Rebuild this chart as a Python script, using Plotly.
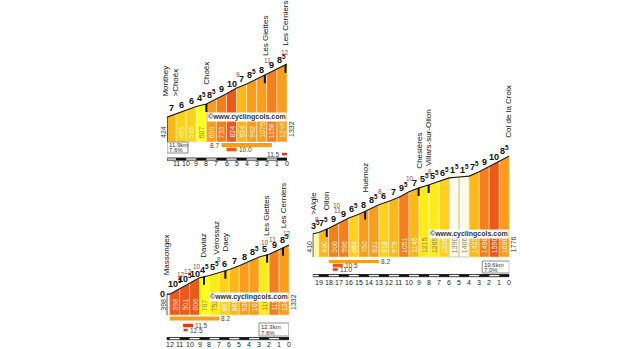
import numpy as np
import plotly.graph_objects as go

W, H = 640, 349

# ---------------- Monthey -> Les Cerniers ----------------
mon_km = [11.9, 11, 10, 9, 8, 7, 6, 5, 4, 3, 2, 1, 0]
mon_elev = [424, 485, 546, 607, 650, 733, 824, 924, 992, 1076, 1158, 1246, 1332]
mon_grad = [7, 6, 6, 4.5, 8.5, 9, 10, 7, 8.5, 8, 9, 8.5]
mon_peak_km = [4.9, 1.9, 0.2]
mon_peak_val = [9, 11, 12]
mon_place = ["Monthey<br>&gt;Choëx", "Choëx", "Les Giettes", "Les Cerniers"]
mon_place_km = [11.6, 8.0, 2.2, 0.15]
mon_place_mark = [False, True, True, True]
mon_length = "11.9km"
mon_mean = "7.6%"
mon_steep_from = [6.5, 6.0, 0.5]
mon_steep_to = [1.5, 5.0, 0.0]
mon_steep_val = [8.7, 10.0, 11.5]

# ---------------- Massongex -> Les Cerniers ----------------
mas_km = [12.3, 12, 11, 10, 9, 8, 7, 6, 5, 4, 3, 2, 1, 0]
mas_elev = [398, 398, 501, 606, 707, 752, 807, 868, 938, 1019, 1106, 1158, 1246, 1332]
mas_grad = [0, 10.5, 10.5, 10, 4.5, 5.5, 6, 7, 8, 8.5, 5, 9, 8.5]
mas_peak_km = [10.87, 10.15, 9.3, 7.05, 2.45, 1.65, 0.25]
mas_peak_val = [12, 12, 10, 8, 10, 11, 12]
mas_place = ["Massongex", "Daviaz", "Vérossaz", "Daey", "Les Giettes", "Les Cerniers"]
mas_place_km = [12.3, 8.55, 7.3, 6.4, 2.2, 0.6]
mas_place_mark = [False, True, False, True, True, True]
mas_length = "12.3km"
mas_mean = "7.6%"
mas_steep_from = [12.0, 10.65, 10.6]
mas_steep_to = [7.0, 9.65, 10.2]
mas_steep_val = [8.2, 11.5, 12.5]

# ---------------- Aigle -> Col de la Croix ----------------
aig_km = [19.6, 19, 18, 17, 16, 15, 14, 13, 12, 11, 10, 9, 8, 7, 6, 5, 4, 3, 2, 1, 0]
aig_elev = [410, 430, 506, 596, 684, 750, 831, 918, 979, 1051, 1145, 1215, 1269,
            1326, 1390, 1406, 1422, 1498, 1590, 1690, 1776]
aig_grad = [3.5, 7.5, 9, 9, 6.5, 8, 8.5, 6, 7, 9.5, 7, 5.5, 5.5, 6.5, 1.5, 1.5, 7.5, 9, 10, 8.5]
aig_peak_km = [19.17, 17.14, 17.14, 12.94, 9.87, 7.87]
aig_peak_val = [8, 11, 10, 8, 10, 8]
aig_place = ["&gt;Aigle", "Ollon", "Huémoz", "Chesières", "Villars-sur-Ollon", "Col de la Croix"]
aig_place_km = [19.6, 18.2, 14.37, 9.04, 8.04, 0.1]
aig_place_mark = [False, True, True, True, True, False]
aig_length = "19.6km"
aig_mean = "7.0%"
aig_steep_from = [18.0, 17.6, 17.6]
aig_steep_to = [13.0, 16.6, 17.1]
aig_steep_val = [8.2, 10.5, 11.0]

NARROW = "Liberation Sans Narrow, Arial Narrow, Liberation Sans, Arial, sans-serif"
SANS = "Liberation Sans, Arial, sans-serif"

panels = [
    dict(km=mon_km, elev=mon_elev, grad=mon_grad, peak_km=mon_peak_km, peak_val=mon_peak_val,
         place=mon_place, place_km=mon_place_km, place_mark=mon_place_mark,
         length=mon_length, mean=mon_mean,
         steep_from=mon_steep_from, steep_to=mon_steep_to, steep_val=mon_steep_val,
         x0=167, x1=287, base=142, ppm=0.0585, top=5, bottom=170,
         rows=[3, 7.5, 12], row_h=[4, 3.5, 2.5], ruler=16, ticks=21.5,
         box="left", box_dy=0, box_w=21, box_h=11, mark=20),
    dict(km=mas_km, elev=mas_elev, grad=mas_grad, peak_km=mas_peak_km, peak_val=mas_peak_val,
         place=mas_place, place_km=mas_place_km, place_mark=mas_place_mark,
         length=mas_length, mean=mas_mean,
         steep_from=mas_steep_from, steep_to=mas_steep_to, steep_val=mas_steep_val,
         x0=166.7, x1=289, base=315, ppm=0.0525, top=180, bottom=349,
         rows=[3.5, 10.5, 15], row_h=[4, 3.5, 2.5], ruler=22.5, ticks=29,
         box="right", box_dy=8, box_w=30, box_h=13, mark=13),
    dict(km=aig_km, elev=aig_elev, grad=aig_grad, peak_km=aig_peak_km, peak_val=aig_peak_val,
         place=aig_place, place_km=aig_place_km, place_mark=aig_place_mark,
         length=aig_length, mean=aig_mean,
         steep_from=aig_steep_from, steep_to=aig_steep_to, steep_val=aig_steep_val,
         x0=312.7, x1=509.3, base=257, ppm=0.0569, top=80, bottom=300,
         rows=[4.5, 8.5, 12.5], row_h=[3, 3.5, 2.5], ruler=17.5, ticks=25,
         box="right", box_dy=4, box_w=27, box_h=12, mark=18),
]


def grad_color(g):
    if g < 1:
        return "#ffffff"
    if g < 3:
        return "#fffbe6"
    if g < 4:
        return "#fff7a0"
    if g < 5:
        return "#ffff1e"
    if g < 6:
        return "#ffea1a"
    if g < 7:
        return "#ffd11c"
    if g < 8:
        return "#fbb81a"
    if g < 9:
        return "#f89e1c"
    if g < 10:
        return "#f37f1d"
    if g < 11:
        return "#ec5a1b"
    return "#e0351a"


def grad_label(g):
    whole = int(g)
    return f"{whole}<sup>5</sup>" if g - whole > 0.25 else f"{whole}"


fig = go.Figure()
shapes, annotations, axes = [], [], {}

for n, p in enumerate(panels, start=1):
    sfx = "" if n == 1 else str(n)
    xr, yr = "x" + sfx, "y" + sfx
    km = np.asarray(p["km"], float)
    el = np.asarray(p["elev"], float)
    L = km[0]
    ppk = (p["x1"] - p["x0"]) / L
    ppm = p["ppm"]

    axes["xaxis" + sfx] = dict(domain=[p["x0"] / W, p["x1"] / W], range=[L, 0],
                               visible=False, fixedrange=True, anchor=yr)
    axes["yaxis" + sfx] = dict(domain=[1 - p["bottom"] / H, 1 - p["top"] / H],
                               range=[-(p["bottom"] - p["base"]) / ppm, (p["base"] - p["top"]) / ppm],
                               visible=False, fixedrange=True, anchor=xr)

    def at(k, km=km, el=el):
        return float(np.interp(k, km[::-1], el[::-1]))

    def below(px, ppm=ppm):
        return -px / ppm

    def ann(**kw):
        d = dict(xref=xr, yref=yr, showarrow=False)
        d.update(kw)
        annotations.append(d)

    def shp(**kw):
        d = dict(xref=xr, yref=yr)
        d.update(kw)
        shapes.append(d)

    # one coloured block per kilometre
    for i, g in enumerate(p["grad"]):
        k0, k1, e0, e1 = km[i], km[i + 1], el[i], el[i + 1]
        edge = "#a8a8a8" if g < 3 else "rgba(255,255,255,0.7)"
        fig.add_trace(go.Scatter(x=[k0, k0, k1, k1, k0], y=[0, e0, e1, 0, 0], mode="lines",
                                 fill="toself", fillcolor=grad_color(g),
                                 line=dict(color=edge, width=0.6),
                                 xaxis=xr, yaxis=yr, hoverinfo="skip", showlegend=False))
    fig.add_trace(go.Scatter(x=list(km), y=list(el), mode="lines",
                             line=dict(color="#1a1a1a", width=1.1),
                             xaxis=xr, yaxis=yr, hoverinfo="skip", showlegend=False))
    fig.add_trace(go.Scatter(x=[L, L], y=[0, el[0]], mode="lines",
                             line=dict(color="#1a1a1a", width=1.3),
                             xaxis=xr, yaxis=yr, hoverinfo="skip", showlegend=False))

    # altitude at the start of each full kilometre
    for i in range(1, len(p["grad"])):
        g = p["grad"][i]
        ann(x=(km[i] + km[i + 1]) / 2, y=0, yanchor="bottom", yshift=2, textangle=-90,
            text=str(int(el[i])),
            font=dict(size=7, family=NARROW,
                      color="rgba(255,255,255,0.92)" if g >= 6 else "#8a8260"))

    # start / summit altitude
    ann(x=L, y=0, xshift=-4, yanchor="bottom", yshift=2, textangle=-90,
        text=str(int(el[0])), font=dict(size=7, family=NARROW, color="#333"))
    ann(x=0, y=0, xshift=4, yanchor="bottom", yshift=3, textangle=-90,
        text=str(int(el[-1])), font=dict(size=7, family=NARROW, color="#333"))

    # average gradient per kilometre
    for i, g in enumerate(p["grad"]):
        k0, k1 = km[i], km[i + 1]
        label = dict(text=f"<b>{grad_label(g)}</b>", font=dict(size=9, family=NARROW, color="#111"))
        if k0 - k1 < 0.5:
            # short opening stretch: label sits just left of the climb
            ann(x=k0, y=el[i], xanchor="right", yanchor="middle", **label)
        else:
            ann(x=(k0 + k1) / 2, y=(el[i] + el[i + 1]) / 2, yanchor="bottom", **label)

    # maximum gradients
    done = []
    for k, v in sorted(zip(p["peak_km"], p["peak_val"]), reverse=True):
        lvl = sum(abs(k - d) < 0.3 for d in done)
        done.append(k)
        ann(x=k, y=at(k), yshift=13 + 5 * lvl, text=str(v),
            font=dict(size=6.5, family=SANS, color="#8c4b43"))

    # place names with their markers
    for name, k, mark in zip(p["place"], p["place_km"], p["place_mark"]):
        ann(x=k, y=at(k), yanchor="bottom", yshift=17, textangle=-90, text=name, align="left",
            font=dict(size=8, family=NARROW, color="#111"))
        if mark:
            shp(type="line", x0=k, x1=k, y0=at(k), y1=at(k) + below(8),
                line=dict(color="#111", width=2))

    # site credit
    ann(x=0, y=0, xanchor="right", yanchor="bottom", yshift=p["mark"],
        text="<b>©www.cyclingcols.com</b>", bgcolor="white", borderpad=0,
        font=dict(size=7, family=SANS, color="#333"))

    # length / mean gradient box
    bw = p["box_w"] / ppk
    bx0, bx1 = (L, L - bw) if p["box"] == "left" else (bw, 0)
    shp(type="rect", x0=bx0, x1=bx1, y0=below(p["box_dy"]), y1=below(p["box_dy"] + p["box_h"]),
        line=dict(color="#8a8a8a", width=1), fillcolor="white")
    for frac, txt in ((0.3, p["length"]), (0.74, p["mean"])):
        ann(x=bx0, y=below(p["box_dy"] + p["box_h"] * frac), xanchor="left", xshift=1,
            text=txt, borderpad=0, font=dict(size=6, family=SANS, color="#333"))

    # steepest sections
    for j, (a, b, v) in enumerate(zip(p["steep_from"], p["steep_to"], p["steep_val"])):
        c, h = p["rows"][j], p["row_h"][j]
        shp(type="rect", x0=a, x1=b, y0=below(c - h / 2), y1=below(c + h / 2),
            fillcolor=grad_color(v), line=dict(width=0))
        if b < 2:
            ann(x=a, y=below(c), xanchor="right", xshift=-1, text=f"{v:.1f}", borderpad=0,
                font=dict(size=6.5, family=SANS, color="#444"))
        else:
            ann(x=b, y=below(c), xanchor="left", xshift=1, text=f"{v:.1f}", borderpad=0,
                font=dict(size=6.5, family=SANS, color="#444"))

    # distance ruler
    r0, r1 = below(p["ruler"]), below(p["ruler"] + 2.2)
    shp(type="rect", x0=L, x1=0, y0=r0, y1=r1, fillcolor="white", line=dict(color="#111", width=0.8))
    for k in range(1, int(np.ceil(L)) + 1):
        if k % 2 == 1:
            shp(type="rect", x0=min(k, L), x1=k - 1, y0=r0, y1=r1, fillcolor="#111", line=dict(width=0))
    for k in range(int(L), -1, -1):
        ann(x=k, y=below(p["ticks"]), text=str(k), borderpad=0,
            font=dict(size=7, family=SANS, color="#222"))

fig.update_layout(width=W, height=H, margin=dict(l=0, r=0, t=0, b=0),
                  paper_bgcolor="white", plot_bgcolor="rgba(0,0,0,0)", showlegend=False,
                  shapes=shapes, annotations=annotations, **axes)

fig.write_html("out.html", include_plotlyjs=True, config={"staticPlot": True})
